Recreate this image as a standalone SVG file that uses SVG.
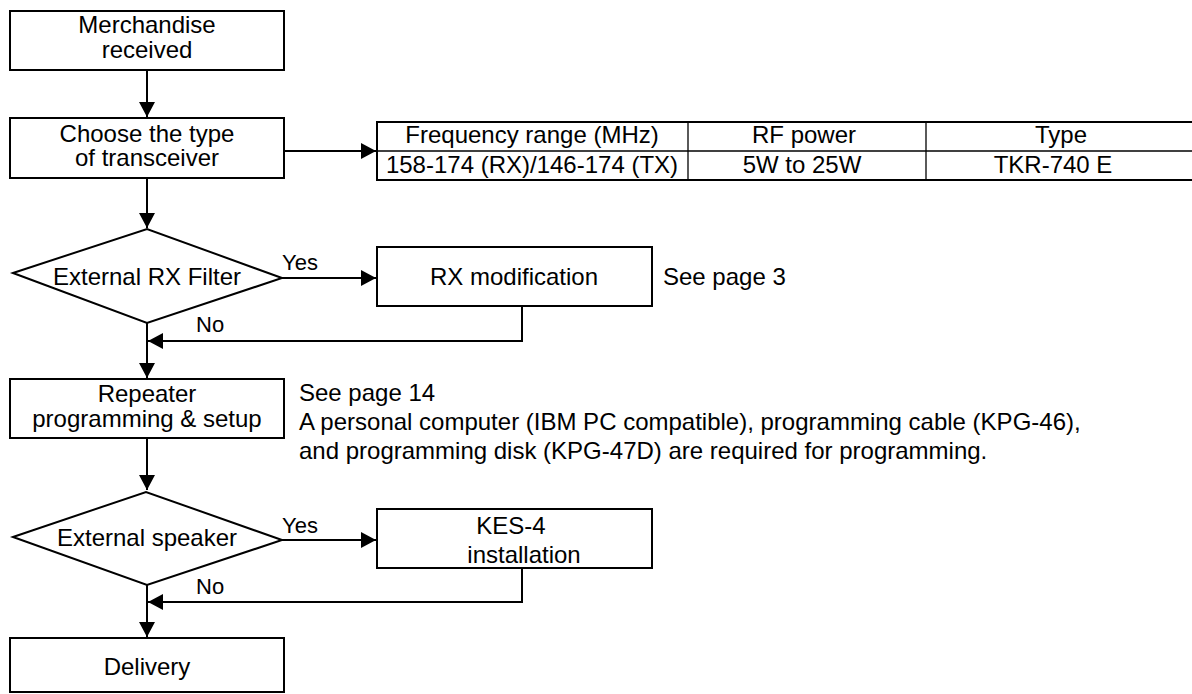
<svg xmlns="http://www.w3.org/2000/svg" width="1192" height="694" viewBox="0 0 1192 694">
<style>
.box{fill:#fff;stroke:#000;stroke-width:2}
.t{font-family:"Liberation Sans",Arial,sans-serif;font-size:24px;fill:#000}
.s{font-size:22px}
.c{text-anchor:middle}
.ln{fill:none;stroke:#000;stroke-width:2}
.thin{fill:none;stroke:#000;stroke-width:1.3}
</style>
<defs>
<marker id="ah" markerWidth="15" markerHeight="16" refX="15" refY="8" orient="auto" markerUnits="userSpaceOnUse">
<path d="M0,0 L15,8 L0,16 Z" fill="#000"/>
</marker>
</defs>
<rect width="1192" height="694" fill="#fff"/>

<g id="connectors">
<line class="ln" x1="147" y1="70" x2="147" y2="117" marker-end="url(#ah)"/>
<line class="ln" x1="147" y1="178" x2="147" y2="228" marker-end="url(#ah)"/>
<line class="ln" x1="284" y1="151" x2="376" y2="151" marker-end="url(#ah)"/>
<line class="ln" x1="282" y1="278" x2="376" y2="278" marker-end="url(#ah)"/>
<polyline class="ln" points="522,306 522,341 148,341" marker-end="url(#ah)"/>
<line class="ln" x1="147" y1="323" x2="147" y2="378" marker-end="url(#ah)"/>
<line class="ln" x1="147" y1="438" x2="147" y2="490" marker-end="url(#ah)"/>
<line class="ln" x1="282" y1="540" x2="376" y2="540" marker-end="url(#ah)"/>
<polyline class="ln" points="522,568 522,602 148,602" marker-end="url(#ah)"/>
<line class="ln" x1="147" y1="585" x2="147" y2="637" marker-end="url(#ah)"/>
<text class="t s" x="282" y="270">Yes</text>
<text class="t s" x="196" y="332">No</text>
<text class="t s" x="282" y="533">Yes</text>
<text class="t s" x="196" y="594">No</text>
</g>

<g id="merchandise">
<rect class="box" x="10" y="11" width="274" height="59"/>
<text class="t c" x="147" y="33">Merchandise</text>
<text class="t c" x="147" y="58">received</text>
</g>

<g id="choose">
<rect class="box" x="10" y="118" width="274" height="60"/>
<text class="t c" x="147" y="142">Choose the type</text>
<text class="t c" x="147" y="166">of transceiver</text>
</g>

<g id="table">
<rect class="box" x="377" y="122" width="820" height="58"/>
<line class="thin" x1="377" y1="151" x2="1192" y2="151"/>
<line class="thin" x1="688" y1="122" x2="688" y2="180"/>
<line class="thin" x1="926" y1="122" x2="926" y2="180"/>
<text class="t c" x="532" y="143">Frequency range (MHz)</text>
<text class="t c" x="804" y="143">RF power</text>
<text class="t c" x="1061" y="143">Type</text>
<text class="t c" x="532" y="172.5">158-174 (RX)/146-174 (TX)</text>
<text class="t c" x="802" y="172.5">5W to 25W</text>
<text class="t c" x="1053" y="172.5">TKR-740 E</text>
</g>

<g id="rx-filter">
<polygon class="box" points="13,273 147,229 282,278 147,323"/>
<text class="t c" x="147" y="285">External RX Filter</text>
</g>

<g id="rx-mod">
<rect class="box" x="377" y="247" width="275" height="59"/>
<text class="t c" x="514" y="285">RX modification</text>
<text class="t" x="663" y="285">See page 3</text>
</g>

<g id="repeater">
<rect class="box" x="10" y="379" width="274" height="59"/>
<text class="t c" x="147" y="402">Repeater</text>
<text class="t c" x="147" y="427">programming &amp; setup</text>
</g>

<g id="note">
<text class="t" x="299" y="401">See page 14</text>
<text class="t" x="299" y="430">A personal computer (IBM PC compatible), programming cable (KPG-46),</text>
<text class="t" x="299" y="459">and programming disk (KPG-47D) are required for programming.</text>
</g>

<g id="ext-speaker">
<polygon class="box" points="13,537 146,492 282,540 147,585"/>
<text class="t c" x="147" y="546">External speaker</text>
</g>

<g id="kes4">
<rect class="box" x="377" y="509" width="275" height="59"/>
<text class="t c" x="511" y="534">KES-4</text>
<text class="t c" x="524" y="563">installation</text>
</g>

<g id="delivery">
<rect class="box" x="10" y="638" width="274" height="54"/>
<text class="t c" x="147" y="675">Delivery</text>
</g>
</svg>
